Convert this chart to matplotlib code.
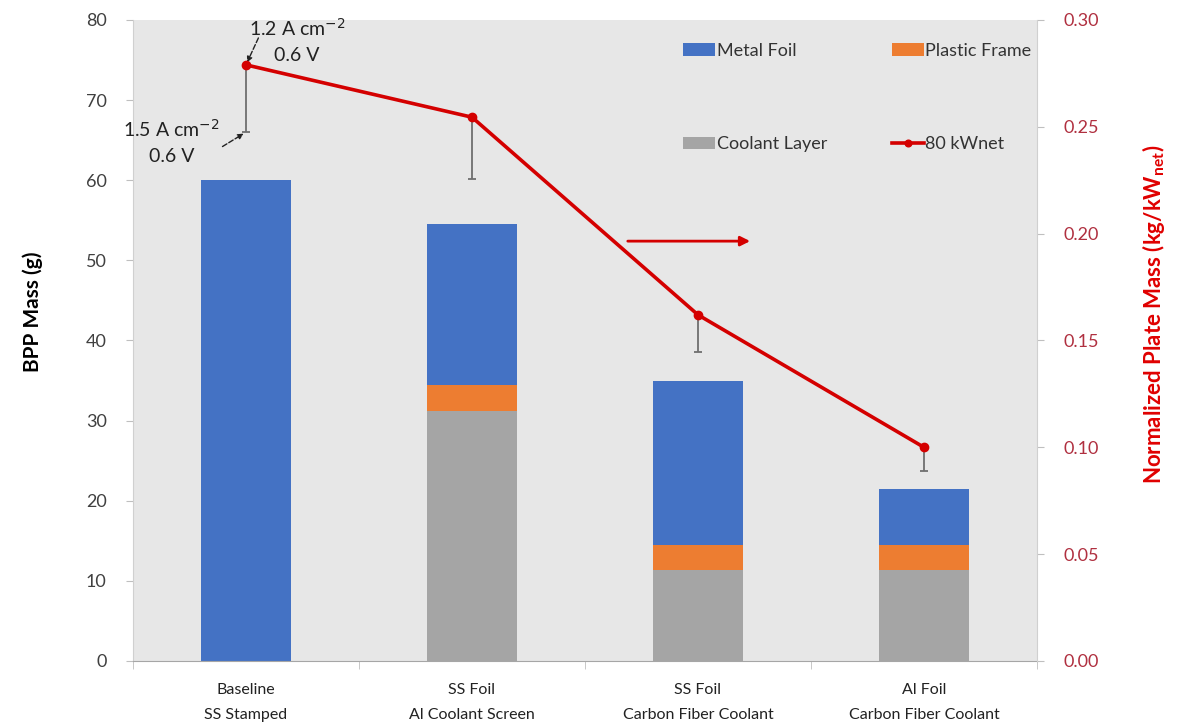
import matplotlib
matplotlib.use("Agg")
import matplotlib.pyplot as plt
import numpy as np

categories = ["Baseline\nSS Stamped", "SS Foil\nAl Coolant Screen",
              "SS Foil\nCarbon Fiber Coolant", "Al Foil\nCarbon Fiber Coolant"]
coolant_layer = [0.0, 31.2, 11.4, 11.4]
plastic_frame = [0.0, 3.2, 3.1, 3.1]
metal_foil = [60.0, 20.1, 20.4, 7.0]
norm_mass = [0.279, 0.2545, 0.162, 0.100]
norm_mass_low = [0.2475, 0.2255, 0.1445, 0.089]

plt.rcParams['font.family'] = ['Lato', 'DejaVu Sans']

fig = plt.figure(figsize=(11.83, 7.27), dpi=100)
ax = fig.add_axes([0.1124, 0.0908, 0.7642, 0.8817])
ax.set_facecolor('#e7e7e7')

x = np.arange(len(categories))
w = 0.40
c_blue, c_orange, c_gray = '#4472C4', '#ED7D31', '#A5A5A5'
b1 = ax.bar(x, coolant_layer, w, color=c_gray, label='Coolant Layer', zorder=2)
b2 = ax.bar(x, plastic_frame, w, bottom=coolant_layer, color=c_orange, label='Plastic Frame', zorder=2)
bot2 = np.array(coolant_layer) + np.array(plastic_frame)
b3 = ax.bar(x, metal_foil, w, bottom=bot2, color=c_blue, label='Metal Foil', zorder=2)

ax.set_xlim(-0.5, len(categories) - 0.5)
ax.set_ylim(0, 80)
ax.set_yticks(np.arange(0, 81, 10))
ax.set_xticks(x)
ax.set_xticklabels(categories, fontsize=11.5, color='#222222', linespacing=1.95)
ax.set_xticks(np.arange(-0.5, len(categories) + 0.5, 1), minor=True)
ax.tick_params(axis='x', which='major', length=0, pad=16)
ax.tick_params(axis='x', which='minor', length=6, color='#bfbfbf')
ax.tick_params(axis='y', length=5, color='#bfbfbf', labelsize=13, labelcolor='#404040', pad=14)
for s in ['top', 'right']:
    ax.spines[s].set_visible(False)
ax.spines['left'].set_color('#d0d0d0')
ax.spines['bottom'].set_color('#a6a6a6')
ax.set_ylabel('BPP Mass (g)', fontsize=15, fontweight='bold')
ax.yaxis.set_label_coords(-0.0996, 0.545)

ax2 = ax.twinx()
ax2.set_ylim(0, 0.30)
ax2.set_yticks(np.arange(0, 0.301, 0.05))
ax2.set_yticklabels([f'{v:.2f}' for v in np.arange(0, 0.301, 0.05)])
ax2.tick_params(axis='y', length=5, color='#bfbfbf', labelsize=13, labelcolor='#b03040', pad=14)
for s in ['top', 'left', 'bottom']:
    ax2.spines[s].set_visible(False)
ax2.spines['right'].set_color('#d0d0d0')
ax2.set_ylabel('Normalized Plate Mass (kg/kW$_{\\mathregular{net}}$)', color='#e00000',
               fontsize=16, fontweight='bold')
ax2.yaxis.set_label_coords(1.114, 0.54)

lowers = np.array(norm_mass) - np.array(norm_mass_low)
ax2.errorbar(x, norm_mass, yerr=[lowers, np.zeros_like(lowers)], fmt='none',
             ecolor='#6f6f6f', elinewidth=1.3, capsize=3, capthick=1.3, zorder=3)
ln, = ax2.plot(x, norm_mass, color='#d40000', lw=2.6, marker='o', ms=6,
               label='80 kWnet', zorder=4)

# annotations
ax2.annotate('1.2 A cm$^{-2}$\n0.6 V', xy=(x[0], norm_mass[0]), xytext=(x[0] + 0.226, 0.2905),
             ha='center', va='center', fontsize=14, color='#222222', linespacing=1.55,
             arrowprops=dict(arrowstyle='-|>', linestyle='--', color='#222222', lw=1,
                             shrinkA=0, shrinkB=2, mutation_scale=8, relpos=(0.1, 0.55)))
ax2.annotate('1.5 A cm$^{-2}$\n0.6 V', xy=(x[0], norm_mass_low[0]), xytext=(x[0] - 0.33, 0.2432),
             ha='center', va='center', fontsize=14, color='#222222', linespacing=1.55,
             arrowprops=dict(arrowstyle='-|>', linestyle='--', color='#222222', lw=1,
                             shrinkA=0, shrinkB=2, mutation_scale=8,
                             relpos=(0.88, 0.2)))
ax.annotate('', xy=(2.243, 52.4), xytext=(1.677, 52.4),
            arrowprops=dict(arrowstyle='-|>', color='#d40000', lw=2, mutation_scale=14))

handles = [b3, b1, b2, ln]
leg = ax.legend(handles, [h.get_label() for h in handles], ncol=2, loc='upper right',
                bbox_to_anchor=(1.012, 0.99), frameon=False, fontsize=13,
                handlelength=1.75, handleheight=0.7, handletextpad=0.1,
                columnspacing=3.6, labelspacing=4.3, markerscale=0.8)
for t in leg.get_texts():
    t.set_color('#333333')

fig.savefig('out.png', dpi=100, facecolor='white')
